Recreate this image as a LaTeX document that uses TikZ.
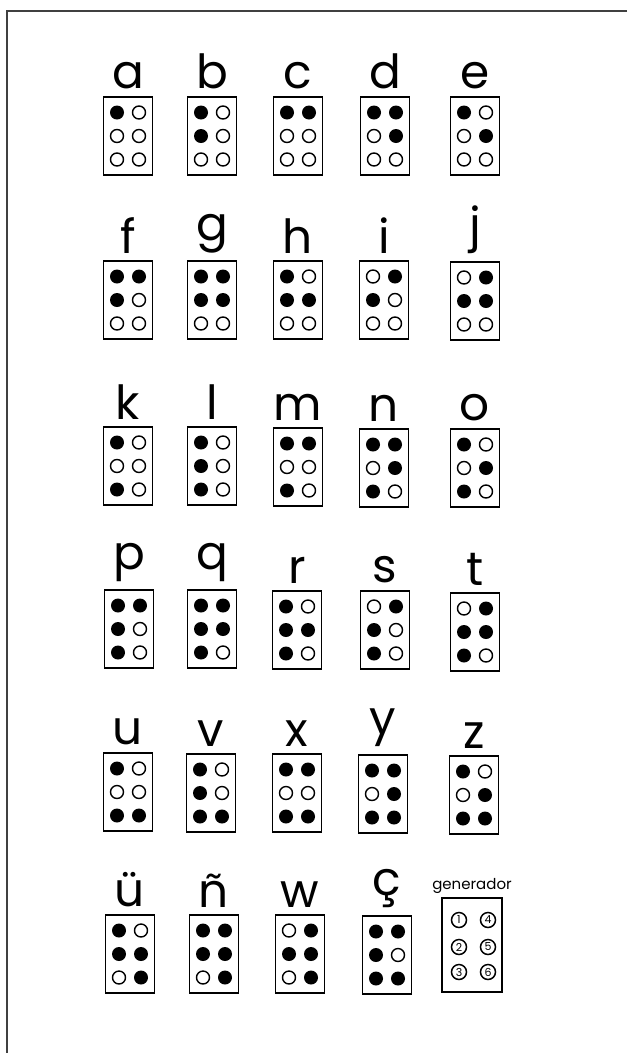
\documentclass[tikz,border=0pt]{standalone}
\usepackage{fontspec}
\newfontfamily\lettfont{Poppins}
\begin{document}
\begin{tikzpicture}[x=1pt,y=-1pt,
  frameline/.style={line width=1.4pt, black!75},
  brbox/.style={draw, line width=1.8pt, minimum width=49pt, minimum height=78pt, inner sep=0pt},
  dotfull/.style={circle, fill=black, minimum size=14pt, inner sep=0pt},
  dotopen/.style={circle, draw=black, fill=white, line width=1.4pt, minimum size=13pt, inner sep=0pt},
  lett/.style={font=\lettfont\fontsize{47}{47}\selectfont, anchor=south, inner sep=0pt, outer sep=0pt},
  genbox/.style={draw, line width=1.8pt, minimum width=60pt, minimum height=94pt, inner sep=0pt},
  gentext/.style={font=\lettfont\fontsize{15}{15}\selectfont, anchor=south, inner sep=0pt},
  gennum/.style={circle, draw=black, line width=1.5pt, minimum size=15pt, inner sep=0pt, font=\lettfont\fontsize{11}{11}\selectfont}
]
\useasboundingbox (0,0) rectangle (627,1053);
\fill[white] (0,0) rectangle (627,1053);
% frame
\coordinate (ftr) at (627,11);
\coordinate (ftl) at (7,11);
\coordinate (fbl) at (7,1053);
\draw[frameline] (ftr) -- (ftl) -- (fbl);

\newcommand{\brcell}[6]{%
  \node[brbox] (#1) at (#2,{#3+39}) {};
  \node[lett] (#1-l) at ([yshift=7pt]#1.north) {#4};
  \foreach \d [evaluate=\d as \dx using {(\d>3)*22-11}, evaluate=\d as \dy using {(mod(\d-1,3)-1)*23.5}] in {#5}
    \node[dotfull] (#1-\d) at ({#2+\dx},{#3+39+\dy}) {};
  \foreach \d [evaluate=\d as \dx using {(\d>3)*22-11}, evaluate=\d as \dy using {(mod(\d-1,3)-1)*23.5}] in {#6}
    \node[dotopen] (#1-\d) at ({#2+\dx},{#3+39+\dy}) {};
}

% row 1
\brcell{a}{128}{97}{a}{1}{2,3,4,5,6}
\brcell{b}{212}{97}{b}{1,2}{3,4,5,6}
\brcell{c}{298}{97}{c}{1,4}{2,3,5,6}
\brcell{d}{385}{97}{d}{1,4,5}{2,3,6}
\brcell{e}{475}{97}{e}{1,5}{2,3,4,6}
% row 2
\brcell{f}{128}{261}{f}{1,2,4}{3,5,6}
\brcell{g}{212}{261}{g}{1,2,4,5}{3,6}
\brcell{h}{298}{261}{h}{1,2,5}{3,4,6}
\brcell{i}{384}{261}{i}{2,4}{1,3,5,6}
\brcell{j}{475}{262}{j}{2,4,5}{1,3,6}
% row 3
\brcell{k}{128}{427}{k}{1,3}{2,4,5,6}
\brcell{l}{212}{427}{l}{1,2,3}{4,5,6}
\brcell{m}{298}{428}{m}{1,3,4}{2,5,6}
\brcell{n}{384}{429}{n}{1,3,4,5}{2,6}
\brcell{o}{475}{429}{o}{1,3,5}{2,4,6}
% row 4
\brcell{p}{129}{590}{p}{1,2,3,4}{5,6}
\brcell{q}{212}{590}{q}{1,2,3,4,5}{6}
\brcell{r}{297}{591}{r}{1,2,3,5}{4,6}
\brcell{s}{385}{591}{s}{2,3,4}{1,5,6}
\brcell{t}{475}{593}{t}{2,3,4,5}{1,6}
% row 5
\brcell{u}{128}{753}{u}{1,3,6}{2,4,5}
\brcell{v}{211}{754}{v}{1,2,3,6}{4,5}
\brcell{x}{297}{754}{x}{1,3,4,6}{2,5}
\brcell{y}{383}{755}{y}{1,3,4,5,6}{2}
\brcell{z}{474}{756}{z}{1,3,5,6}{2,4}
% row 6
\brcell{uu}{130}{915}{ü}{1,2,5,6}{3,4}
\brcell{nn}{214}{915}{ñ}{1,2,4,5,6}{3}
\brcell{w}{300}{915}{w}{2,4,5,6}{1,3}
\brcell{cc}{387}{916}{ç}{1,2,3,4,6}{5}

% generator
\node[genbox] (gen) at (472,945) {};
\node[gentext] (gen-t) at ([yshift=3pt]gen.north) {generador};
\foreach \d/\px/\py in {1/459/920, 2/459/947, 3/459/972, 4/488/920, 5/488/947, 6/488/972}
  \node[gennum] (gen-\d) at (\px,\py) {\d};
\end{tikzpicture}
\end{document}
